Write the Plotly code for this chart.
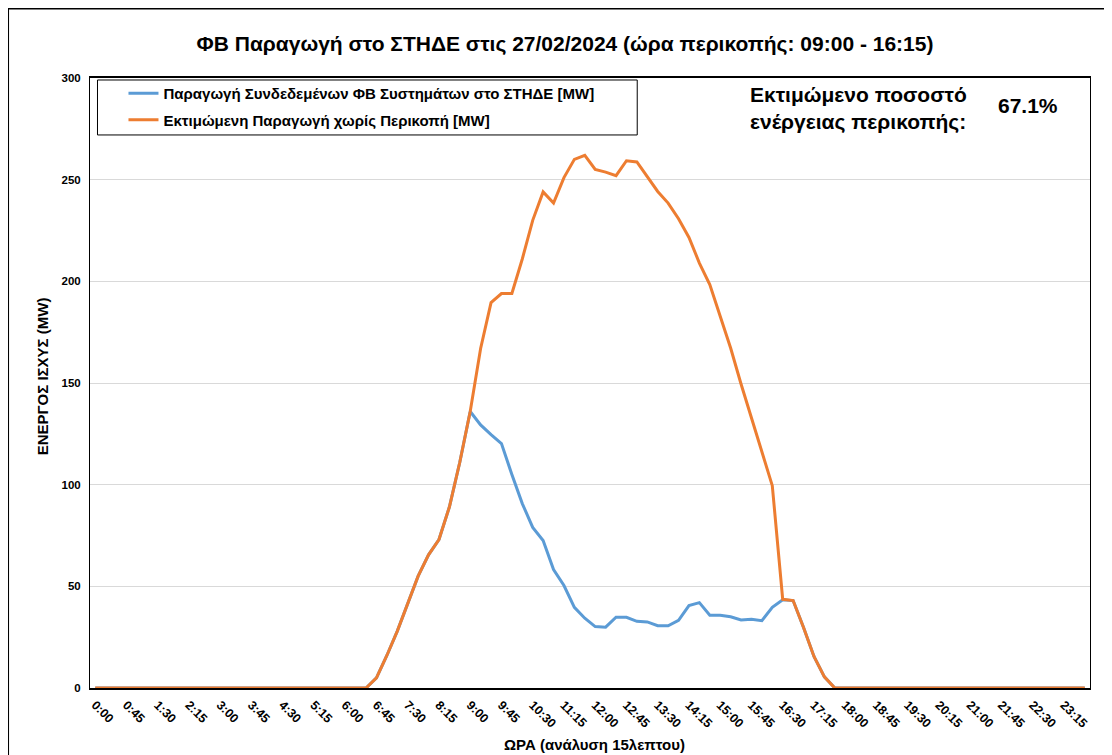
import plotly.graph_objects as go

# ---------------- data ----------------
times = [f"{h}:{m:02d}" for h in range(24) for m in (0, 15, 30, 45)]

estimated_no_curtail = [
    0, 0, 0, 0, 0, 0, 0, 0, 0, 0, 0, 0, 0, 0, 0, 0, 0, 0, 0, 0, 0, 0, 0, 0, 0, 0, 0,
    5, 16, 28, 42, 55, 65.5, 73, 89, 111, 136, 167, 189.5, 194, 194, 211, 230, 244,
    238.5, 251, 260, 262, 255, 253.7, 252, 259.3, 258.7, 251.6, 244.2, 238.5, 230.8,
    221.6, 209, 198.4, 182.8, 167.2, 149.5, 133, 116.4, 99.5, 43.6, 43, 29.8, 15.5, 5.5,
    0, 0, 0, 0, 0, 0, 0, 0, 0, 0, 0, 0, 0, 0, 0, 0, 0, 0, 0, 0, 0, 0, 0, 0, 0,
]

connected_pv = [
    0, 0, 0, 0, 0, 0, 0, 0, 0, 0, 0, 0, 0, 0, 0, 0, 0, 0, 0, 0, 0, 0, 0, 0, 0, 0, 0,
    5, 16, 28, 42, 55, 65.5, 73, 89, 111, 136, 129.4, 124.6, 120.2, 105, 90.7, 79, 72.5,
    58.3, 50.4, 39.7, 34.3, 30.2, 29.9, 34.8, 34.8, 32.8, 32.5, 30.6, 30.6, 33.3,
    40.5, 42, 35.8, 35.8, 35, 33.5, 33.8, 33.1, 39.7, 43.4, 43, 29.8, 15.5, 5.5,
    0, 0, 0, 0, 0, 0, 0, 0, 0, 0, 0, 0, 0, 0, 0, 0, 0, 0, 0, 0, 0, 0, 0, 0, 0,
]

series_names = [
    "Παραγωγή Συνδεδεμένων ΦΒ Συστημάτων στο ΣΤΗΔΕ [MW]",
    "Εκτιμώμενη Παραγωγή χωρίς Περικοπή [MW]",
]
tick_labels = times[::3]
curtail_pct = "67.1%"

# ---------------- layout geometry ----------------
# the page body has an 8px margin, so the figure is offset by 8px
OFF = 8
W, H = 1112 - OFF, 755 - OFF
# plot area in window pixels
L, R, T, B = 89.5, 1090, 78, 688.5
pw, ph = R - L, B - T


def px_x(p):
    return (p - L) / pw


def px_y(p):
    return (B - p) / ph


FONT = "Liberation Sans, Arial, sans-serif"

fig = go.Figure()
fig.add_trace(go.Scatter(
    x=times, y=connected_pv, mode="lines", name=series_names[0],
    line=dict(color="#5B9BD5", width=3), legendgroup="a",
))
fig.add_trace(go.Scatter(
    x=times, y=estimated_no_curtail, mode="lines", name=series_names[1],
    line=dict(color="#ED7D31", width=3), legendgroup="b",
))

fig.update_layout(
    width=W, height=H,
    margin=dict(l=L - OFF, r=W - (R - OFF), t=T - OFF, b=H - (B - OFF), pad=0),
    paper_bgcolor="white", plot_bgcolor="white",
    font=dict(family=FONT, color="black"),
    title=dict(
        text="ΦΒ Παραγωγή στο ΣΤΗΔΕ στις 27/02/2024 (ώρα περικοπής: 09:00 - 16:15)",
        x=(565 - OFF) / W, xanchor="center", xref="container",
        y=1 - (44 - OFF) / H, yanchor="middle", yref="container",
        font=dict(size=21, family=FONT, color="black", weight="bold"),
    ),
    showlegend=True,
    legend=dict(
        x=px_x(123), y=px_y(77), xanchor="left", yanchor="top",
        bgcolor="rgba(0,0,0,0)", borderwidth=0,
        font=dict(size=15, family=FONT, color="black", weight="bold"),
        traceorder="grouped", tracegroupgap=4, itemwidth=30,
    ),
    xaxis=dict(
        type="category", range=[-0.5, len(times) - 0.5],
        tickmode="array", tickvals=tick_labels, ticktext=tick_labels,
        tickangle=45, tickfont=dict(size=12.5, family=FONT, weight="bold"),
        showgrid=False, showline=True, linecolor="black", linewidth=1.5,
        mirror=True, ticks="", zeroline=False, ticklabelstandoff=3,
    ),
    yaxis=dict(
        range=[0, 300], dtick=50, tick0=0,
        tickfont=dict(size=11.5, family=FONT, weight="bold"),
        showgrid=True, gridcolor="#d9d9d9", gridwidth=1.3,
        showline=True, linecolor="black", linewidth=1, mirror=True,
        ticks="", ticklabelstandoff=6, zeroline=False,
    ),
)

shapes = [
    # outer chart frame
    dict(type="rect", xref="paper", yref="paper",
         x0=px_x(7), x1=px_x(1108), y0=px_y(770), y1=px_y(8),
         line=dict(color="black", width=3), fillcolor="rgba(0,0,0,0)", layer="above"),
    # legend frame
    dict(type="rect", xref="paper", yref="paper",
         x0=px_x(97), x1=px_x(637), y0=px_y(135), y1=px_y(80),
         line=dict(color="black", width=1), fillcolor="white", layer="above"),
]
fig.update_layout(shapes=shapes)

annotations = [
    dict(text="Εκτιμώμενο ποσοστό<br>ενέργειας περικοπής:",
         xref="paper", yref="paper", x=px_x(748), y=px_y(109),
         xanchor="left", yanchor="middle", align="left", showarrow=False,
         font=dict(size=21, family=FONT, color="black", weight="bold")),
    dict(text=curtail_pct,
         xref="paper", yref="paper", x=px_x(1028), y=px_y(106),
         xanchor="center", yanchor="middle", showarrow=False,
         font=dict(size=21, family=FONT, color="black", weight="bold")),
    dict(text="ΩΡΑ (ανάλυση 15λεπτου)",
         xref="paper", yref="paper", x=px_x(594), y=px_y(745),
         xanchor="center", yanchor="middle", showarrow=False,
         font=dict(size=15, family=FONT, color="black", weight="bold")),
    dict(text="ΕΝΕΡΓΟΣ ΙΣΧΥΣ (MW)", textangle=-90,
         xref="paper", yref="paper", x=px_x(42), y=px_y(377),
         xanchor="center", yanchor="middle", showarrow=False,
         font=dict(size=15, family=FONT, color="black", weight="bold")),
]
fig.update_layout(annotations=annotations)

fig.write_html("out.html")
